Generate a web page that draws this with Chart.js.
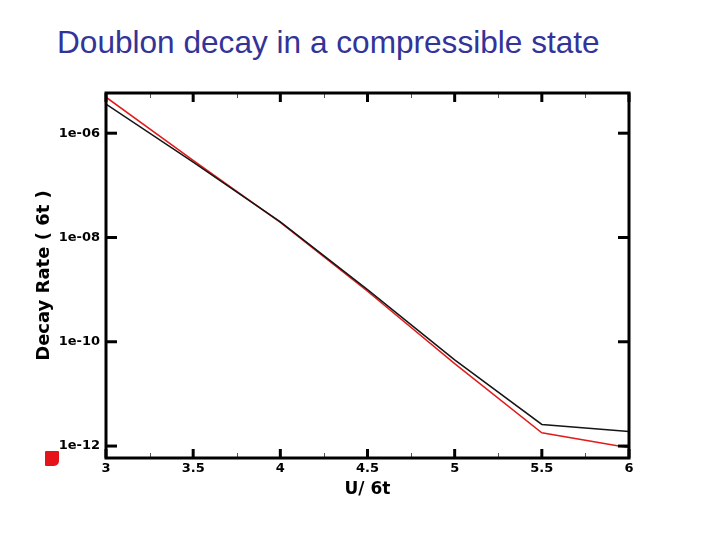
<!DOCTYPE html>
<html>
<head>
<meta charset="utf-8">
<title>Doublon decay</title>
<script src="https://cdn.jsdelivr.net/npm/chart.js@4"></script>
<style>
  html, body { margin: 0; padding: 0; background: #fff; }
  #wrap { position: relative; width: 720px; height: 540px; overflow: hidden; }
  #title {
    position: absolute; left: 57px; top: 26px;
    font: 31.6px/32px "Liberation Sans", Arial, sans-serif;
    color: #333399; white-space: nowrap;
  }
  /* little red note icon bottom-left */
  #note {
    position: absolute; left: 45px; top: 451px; width: 14px; height: 15px;
    background: #e5141b; border-radius: 1px 1px 5px 1px;
  }
  #chart { position: absolute; left: 0; top: 0; }
</style>
</head>
<body>
<div id="wrap">
  <div id="title">Doublon decay in a compressible state</div>
  <canvas id="chart" width="720" height="540"></canvas>
  <div id="note"></div>
</div>
<script>
// ---- data ----
const uValues   = [3, 3.5, 4, 4.5, 5, 5.5, 6];
const blackRate = [3.6e-6, 2.8e-7, 2.0e-8, 1.0e-9, 4.5e-11, 2.6e-12, 1.9e-12];
const redRate   = [4.9e-6, 3.0e-7, 1.95e-8, 9.3e-10, 3.8e-11, 1.8e-12, 9.3e-13];

const xTickValues = [3, 3.5, 4, 4.5, 5, 5.5, 6];
const xTickLabels = ['3', '3.5', '4', '4.5', '5', '5.5', '6'];
const xMinorTicks = [3.25, 3.75, 4.25, 4.75, 5.25, 5.75];
const yTickValues = [1e-6, 1e-8, 1e-10, 1e-12];
const yTickLabels = ['1e-06', '1e-08', '1e-10', '1e-12'];

const Y_MIN = 5.9e-13;
const Y_MAX = 5.9e-6;

const tickFont = { family: 'DejaVu Sans', size: 13, weight: 'bold' };

// frame + inward tick marks, drawn through the scales
const framePlugin = {
  id: 'frame',
  afterDatasetsDraw(chart) {
    const { ctx, chartArea: a, scales: { x, y } } = chart;
    const seg = (x1, y1, x2, y2) => {
      ctx.beginPath(); ctx.moveTo(x1, y1); ctx.lineTo(x2, y2); ctx.stroke();
    };
    ctx.save();
    ctx.strokeStyle = '#555';
    ctx.lineWidth = 1;
    xMinorTicks.forEach(v => {
      const px = Math.round(x.getPixelForValue(v)) + 0.5;
      seg(px, a.bottom, px, a.bottom - 5);
      seg(px, a.top, px, a.top + 5);
    });
    ctx.strokeStyle = '#000';
    ctx.lineWidth = 3;
    xTickValues.forEach(v => {
      const px = x.getPixelForValue(v);
      seg(px, a.bottom, px, a.bottom - 9);
      seg(px, a.top, px, a.top + 9);
    });
    yTickValues.forEach(v => {
      const py = y.getPixelForValue(v);
      seg(a.left, py, a.left + 11, py);
      seg(a.right, py, a.right - 11, py);
    });
    ctx.strokeRect(a.left, a.top, a.right - a.left, a.bottom - a.top);
    ctx.restore();
  }
};

const ctx = document.getElementById('chart').getContext('2d');
new Chart(ctx, {
  type: 'line',
  data: {
    datasets: [
      {
        label: 'black',
        data: uValues.map((u, i) => ({ x: u, y: blackRate[i] })),
        borderColor: '#151515',
        borderWidth: 1.5,
        pointRadius: 0,
        tension: 0
      },
      {
        label: 'red',
        data: uValues.map((u, i) => ({ x: u, y: redRate[i] })),
        borderColor: '#e11b1b',
        borderWidth: 1.5,
        pointRadius: 0,
        tension: 0
      }
    ]
  },
  options: {
    responsive: false,
    animation: false,
    layout: { padding: { left: 30, top: 93, right: 91, bottom: 30 } },
    plugins: { legend: { display: false }, tooltip: { enabled: false } },
    scales: {
      x: {
        type: 'linear',
        min: 3,
        max: 6,
        afterBuildTicks: s => { s.ticks = xTickValues.map(v => ({ value: v })); },
        afterFit: s => { s.height = 52; },
        ticks: {
          callback: v => xTickLabels[xTickValues.indexOf(v)],
          font: tickFont,
          color: '#000',
          padding: 3,
          maxRotation: 0,
          autoSkip: false
        },
        grid: { display: false, drawTicks: false },
        border: { display: false },
        title: {
          display: true,
          text: 'U/ 6t',
          font: { family: 'DejaVu Sans', size: 17, weight: 'bold' },
          color: '#000',
          padding: { top: 0, bottom: 10 }
        }
      },
      y: {
        type: 'logarithmic',
        min: Y_MIN,
        max: Y_MAX,
        afterBuildTicks: s => { s.ticks = yTickValues.map(v => ({ value: v })); },
        afterFit: s => { s.width = 76; },
        ticks: {
          callback: v => yTickLabels[yTickValues.indexOf(v)],
          font: tickFont,
          color: '#000',
          padding: 6,
          autoSkip: false
        },
        grid: { display: false, drawTicks: false },
        border: { display: false },
        title: {
          display: true,
          text: 'Decay Rate ( 6t )',
          font: { family: 'DejaVu Sans', size: 18, weight: 'bold' },
          color: '#000',
          padding: { top: 4, bottom: 4 }
        }
      }
    }
  },
  plugins: [framePlugin]
});
</script>
</body>
</html>
